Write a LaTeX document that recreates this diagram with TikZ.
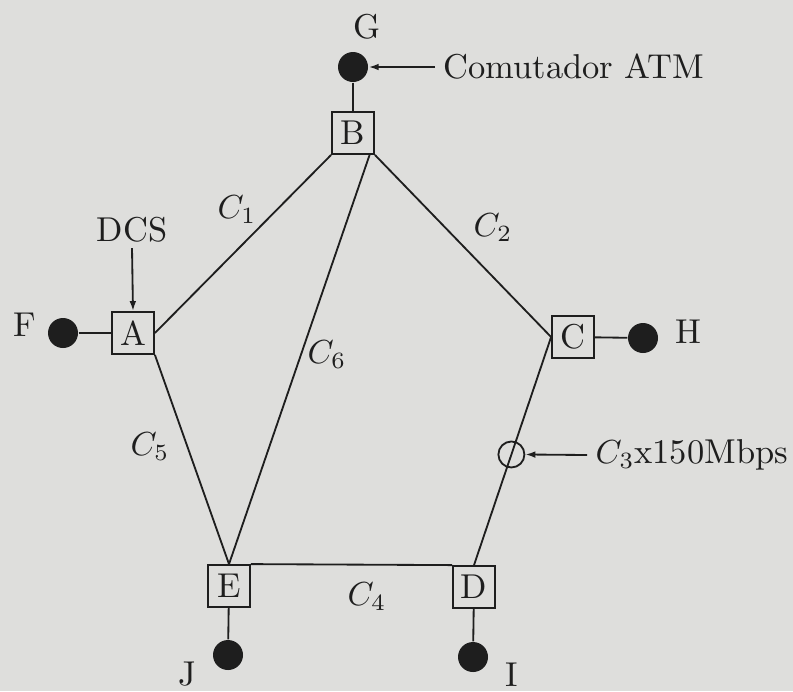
\documentclass[tikz,border=0pt]{standalone}
\usetikzlibrary{arrows.meta}
\definecolor{paper}{RGB}{222,222,220}
\definecolor{ink}{RGB}{30,30,30}
\begin{document}
\begin{tikzpicture}[x=0.3pt,y=-0.3pt,
  every node/.style={text=ink,font=\fontsize{10.35}{12.4}\selectfont},
  boxnode/.style={draw=ink,line width=0.55pt,minimum size=12.6pt,inner sep=0pt},
  hostnode/.style={circle,fill=ink,minimum size=9pt,inner sep=0pt},
  ringnode/.style={circle,draw=ink,line width=0.55pt,minimum size=7.8pt,inner sep=0pt},
  link/.style={draw=ink,line width=0.55pt},
  pointer/.style={draw=ink,line width=0.55pt,-{Latex[length=3pt,width=2pt]}},
  lbl/.style={inner sep=0pt}]
\fill[paper] (0,0) rectangle (793,691);
\useasboundingbox (0,0) rectangle (793,691);
% boxes
\node[boxnode] (B) at (353,133) {B};
\node[boxnode] (A) at (133,333) {A};
\node[boxnode] (C) at (573,337) {C};
\node[boxnode] (E) at (229,586) {E};
\node[boxnode] (D) at (474,587) {D};
% hosts
\node[hostnode] (G) at (353,67) {};
\node[hostnode] (F) at (63,333) {};
\node[hostnode] (H) at (643,338) {};
\node[hostnode] (J) at (228,655) {};
\node[hostnode] (I) at (473,657) {};
% host labels
\node[lbl] (Gl) at (367,27) {G};
\node[lbl] (Fl) at (25,325) {F};
\node[lbl] (Hl) at (688,332) {H};
\node[lbl] (Jl) at (187,674) {J};
\node[lbl] (Il) at (512,675) {I};
% links
\draw[link] (G) -- (B);
\draw[link] (F) -- (A);
\draw[link] (C) -- (H);
\draw[link] (E) -- (J);
\draw[link] (D) -- (I);
\draw[link] (A.east) -- (B.south west);
\draw[link] ([xshift=-1.6pt]B.south east) -- (E.north);
\draw[link] (B.south east) -- (C.west);
\draw[link] (A.south east) -- (E.north);
\draw[link] (E.north east) -- (D.north west);
\draw[link] (C.west) -- node[ringnode,pos=0.515] (K) {} (D.north);
% link labels
\node[lbl] (c1) at (237,210) {$C_1$};
\node[lbl] (c2) at (493,228) {$C_2$};
\node[lbl] (c6) at (327,355) {$C_6$};
\node[lbl] (c5) at (150,447) {$C_5$};
\node[lbl] (c4) at (367,597) {$C_4$};
% annotations
\node[lbl,anchor=west] (atm) at (443,67) {Comutador ATM};
\draw[pointer] ([xshift=-2.4pt]atm.west) -- (G.east);
\node[lbl] (dcs) at (132,230) {DCS};
\draw[pointer] ([yshift=-1.5pt]dcs.south) -- (A.north);
\node[lbl,anchor=west] (cap) at (595,455) {$C_3$x150Mbps};
\draw[pointer] ([xshift=-2.4pt]cap.west) -- (K.east);
\end{tikzpicture}
\end{document}
